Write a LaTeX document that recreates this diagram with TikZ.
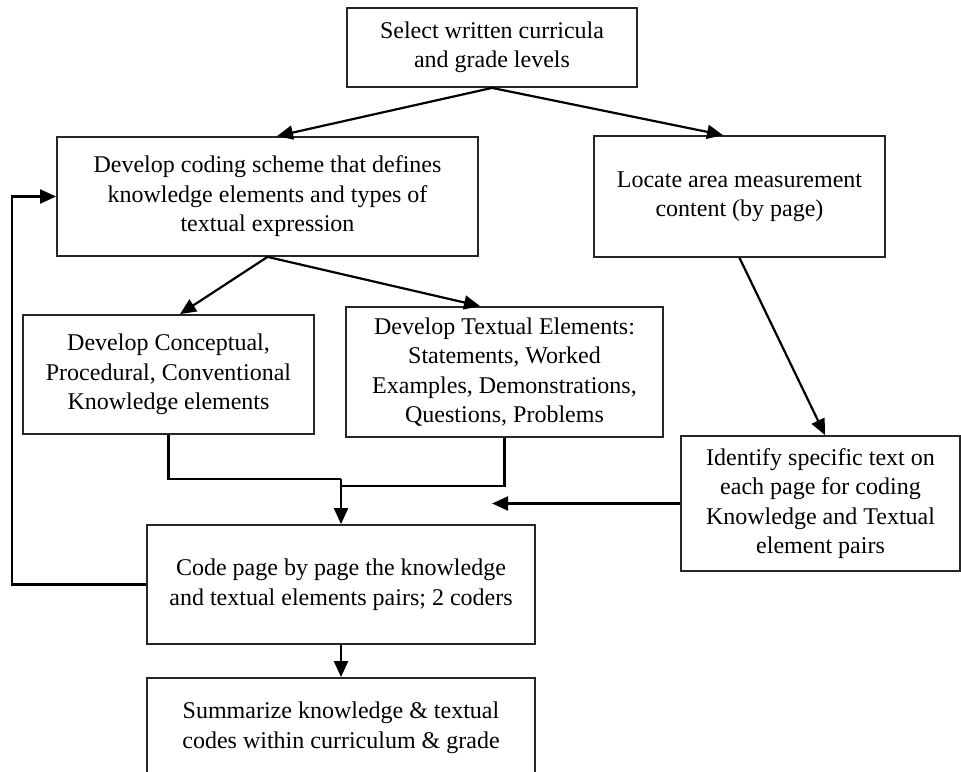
\documentclass[tikz,border=0pt]{standalone}
\usepackage{fontspec}
\setmainfont{Liberation Serif}
\usetikzlibrary{arrows.meta}
\begin{document}
\begin{tikzpicture}[x=1pt,y=-1pt,
  box/.style={draw=black!85, line width=1.8pt, inner sep=0pt, align=center,
    font=\fontsize{24}{29.5}\selectfont},
  conn/.style={line width=2.2pt, -{Triangle[length=16pt,width=14pt]}},
  plain/.style={line width=2.2pt}]
\useasboundingbox (0,0) rectangle (961,771);
\clip (0,0) rectangle (961,771);
\fill[white] (0,0) rectangle (961,771);

\node[box, minimum width=290pt, minimum height=79pt] (b1) at (492,47.5)
  {Select written curricula\\and grade levels};
\node[box, minimum width=421pt, minimum height=119pt] (b2) at (267.5,196.5)
  {Develop coding scheme that defines\\knowledge elements and types of\\textual expression};
\node[box, minimum width=291pt, minimum height=121pt] (b3) at (739.5,196.5)
  {Locate area measurement\\content (by page)};
\node[box, minimum width=291pt, minimum height=119pt] (b4) at (168.5,374.5)
  {Develop Conceptual,\\Procedural, Conventional\\Knowledge elements};
\node[box, minimum width=317pt, minimum height=130pt] (b5) at (504.5,372)
  {Develop Textual Elements:\\Statements, Worked\\Examples, Demonstrations,\\Questions, Problems};
\node[box, minimum width=279pt, minimum height=135pt] (b6) at (820.5,503.5)
  {Identify specific text on\\each page for coding\\Knowledge and Textual\\element pairs};
\node[box, minimum width=388pt, minimum height=119pt] (b7) at (341,584.5)
  {Code page by page the knowledge\\and textual elements pairs; 2 coders};
\node[box, minimum width=388pt, minimum height=100pt] (b8) at (341,728)
  {Summarize knowledge \& textual\\codes within curriculum \& grade};

\coordinate (j) at ([yshift=45pt]b7.north);
\coordinate (fb) at ([xshift=-134pt]b7.west);
\coordinate (t6) at ([xshift=-188pt]b6.west);

\draw[conn] (b1.south) -- ([xshift=9.5pt]b2.north);
\draw[conn] (b1.south) -- ([xshift=-16.5pt]b3.north);
\draw[conn] (b2.south) -- ([xshift=11.5pt]b4.north);
\draw[conn] (b2.south) -- ([xshift=-24.5pt]b5.north);
\draw[conn] (b3.south) -- ([xshift=4.5pt]b6.north);
\draw[plain] (b4.south) |- (j);
\draw[plain] (b5.south) -- ++(0,48) -| (j);
\draw[conn] (j) -- (b7.north);
\draw[conn] (b6.west) -- (t6);
\draw[conn] (b7.west) -- (fb) |- (b2.west);
\draw[conn] (b7.south) -- (b8.north);
\end{tikzpicture}
\end{document}
